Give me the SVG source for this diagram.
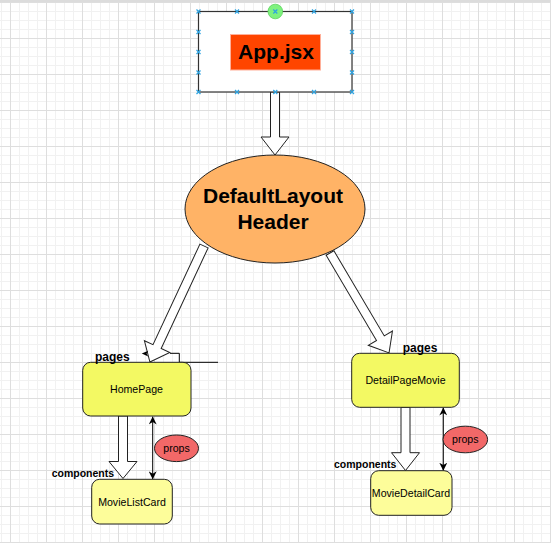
<svg xmlns="http://www.w3.org/2000/svg" width="551" height="543" viewBox="0 0 551 543">
  <defs>
    <pattern id="grid" x="10" y="2" width="36" height="36" patternUnits="userSpaceOnUse">
      <path d="M9.5 0V36M18.5 0V36M27.5 0V36M0 9.5H36M0 18.5H36M0 27.5H36" stroke="#f1f1f1" stroke-width="1" fill="none"/>
      <path d="M0.5 0V36M0 0.5H36" stroke="#dedede" stroke-width="1" fill="none"/>
    </pattern>
    <marker id="arr" viewBox="0 0 10 10" refX="10" refY="5" markerWidth="8" markerHeight="8" markerUnits="userSpaceOnUse" orient="auto-start-reverse">
      <path d="M0,0 L10,5 L0,10 L3,5 z" fill="#000"/>
    </marker>
    <path id="hx" d="M-2,-2L2,2M-2,2L2,-2"/>
  </defs>
  <style>
    .hollow { fill: #fff; stroke: #222; stroke-width: 1; }
    .box { stroke: #222; stroke-width: 1; }
    .t { font-family: "Liberation Sans", Arial, sans-serif; fill: #000; text-anchor: middle; }
    .lbl { font-family: "Liberation Sans", Arial, sans-serif; font-weight: bold; fill: #000; }
    .handle { stroke: #2ea3e0; stroke-width: 1.2; fill: none; }
    .link { stroke: #000; stroke-width: 1; fill: none; }
  </style>

  <rect width="551" height="543" fill="#fff"/>
  <rect width="551" height="543" fill="url(#grid)"/>
  <rect width="551" height="2" fill="#dcdcdc"/>

  <g id="connectors">
    <polygon class="hollow" points="270.5,92 279.5,92 279.5,137 289,137 275,155 261,137 270.5,137"/>
    <polygon class="hollow" transform="translate(204,246) rotate(25)" points="-4.5,0 4.5,0 4.5,111 14,111 0,128 -14,111 -4.5,111"/>
    <polygon class="hollow" transform="translate(330,253) rotate(-30.6)" points="-4.5,0 4.5,0 4.5,99 14,99 0,116 -14,99 -4.5,99"/>
    <polygon class="hollow" points="118.5,416 127.5,416 127.5,461.5 137,461.5 123,478.5 109,461.5 118.5,461.5"/>
    <polygon class="hollow" points="401,407.3 410,407.3 410,452.7 419.5,452.7 405.5,470.5 391.5,452.7 401,452.7"/>
    <polyline class="link" points="170,353.3 179.3,353.3 179.3,362.3 218,362.3"/>
    <polygon points="141.8,353.6 148.2,350.8 146.6,353.6 148.2,356.4" fill="#000"/>
    <line class="link" x1="152.7" y1="416.5" x2="152.7" y2="479.3" marker-start="url(#arr)" marker-end="url(#arr)"/>
    <line class="link" x1="443.3" y1="407.5" x2="443.3" y2="470.7" marker-start="url(#arr)" marker-end="url(#arr)"/>
  </g>

  <g id="app">
    <rect x="198.5" y="11.5" width="153.5" height="80.5" fill="#fff" stroke="#333" stroke-width="1.2"/>
    <rect x="230.5" y="34.5" width="90" height="35.5" fill="#ff4500" stroke="#ffb09a" stroke-width="1"/>
    <text class="t" x="276" y="59" font-size="21" font-weight="bold">App.jsx</text>
    <g class="handle">
      <use href="#hx" x="198.5" y="11.5"/><use href="#hx" x="237" y="11.5"/><use href="#hx" x="314" y="11.5"/><use href="#hx" x="352" y="11.5"/>
      <use href="#hx" x="198.5" y="92"/><use href="#hx" x="237" y="92"/><use href="#hx" x="275.3" y="92"/><use href="#hx" x="314" y="92"/><use href="#hx" x="352" y="92"/>
      <use href="#hx" x="198.5" y="32"/><use href="#hx" x="198.5" y="52"/><use href="#hx" x="198.5" y="72.5"/>
      <use href="#hx" x="352" y="32"/><use href="#hx" x="352" y="52"/><use href="#hx" x="352" y="72.5"/>
    </g>
    <circle cx="275.3" cy="11.5" r="7.3" fill="#7ef27e" stroke="#5ad35a" stroke-width="0.8"/>
    <use class="handle" href="#hx" x="275.3" y="11.5"/>
  </g>

  <g id="layout">
    <ellipse cx="275" cy="209" rx="90" ry="54" fill="#ffb366" class="box"/>
    <text class="t" x="273" y="203" font-size="21" font-weight="bold">DefaultLayout</text>
    <text class="t" x="273" y="229" font-size="21" font-weight="bold">Header</text>
  </g>

  <g id="homepage">
    <rect x="82.7" y="362.3" width="108.3" height="53.7" rx="8" fill="#f3f963" class="box"/>
    <text class="t" x="136.5" y="392.5" font-size="10.6">HomePage</text>
  </g>

  <g id="detailpage">
    <rect x="351.7" y="353.3" width="107.6" height="54" rx="8" fill="#f3f963" class="box"/>
    <text class="t" x="405.5" y="384" font-size="10.6">DetailPageMovie</text>
  </g>

  <g id="movielistcard">
    <rect x="91.7" y="479.3" width="80.6" height="44.7" rx="8" fill="#fdfd9a" class="box"/>
    <text class="t" x="132" y="505.5" font-size="10.6">MovieListCard</text>
  </g>

  <g id="moviedetailcard">
    <rect x="370.7" y="470.7" width="81.3" height="44.6" rx="8" fill="#fdfd9a" class="box"/>
    <text class="t" x="411" y="496.7" font-size="10.6">MovieDetailCard</text>
  </g>

  <g id="props-left">
    <ellipse cx="176.5" cy="448.3" rx="22" ry="13.3" fill="#f26868" class="box"/>
    <text class="t" x="176.5" y="452" font-size="10.6">props</text>
  </g>

  <g id="props-right">
    <ellipse cx="465.3" cy="439.5" rx="22.3" ry="13.3" fill="#f26868" class="box"/>
    <text class="t" x="465.3" y="443.3" font-size="10.6">props</text>
  </g>

  <g id="labels">
    <text class="lbl" x="95" y="360.5" font-size="12">pages</text>
    <text class="lbl" x="402.7" y="352" font-size="12">pages</text>
    <text class="lbl" x="51.7" y="477" font-size="10.5">components</text>
    <text class="lbl" x="334" y="468" font-size="10.5">components</text>
  </g>
</svg>
